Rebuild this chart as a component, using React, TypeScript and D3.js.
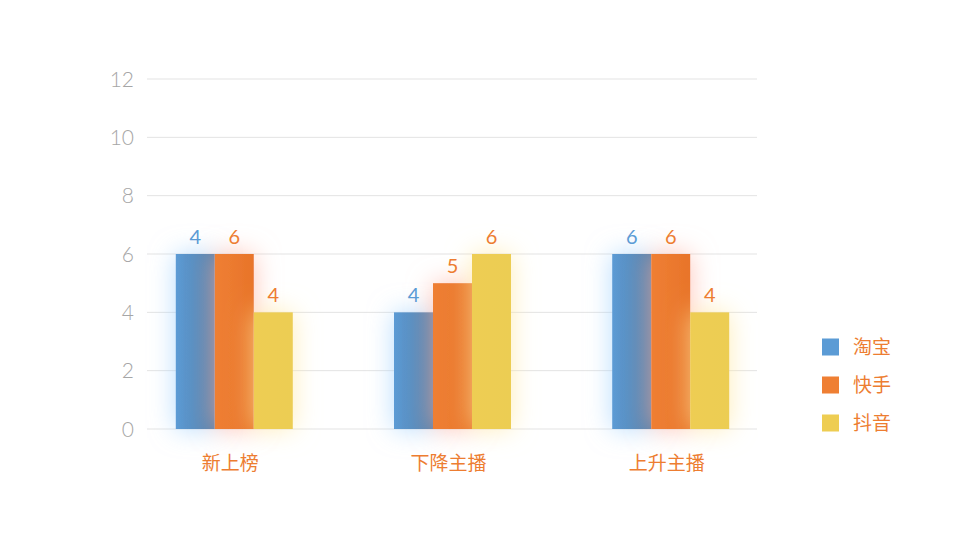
import { scaleBand, scaleLinear, scalePoint } from 'd3'

const categories = ['新上榜', '下降主播', '上升主播']
const seriesNames = ['淘宝', '快手', '抖音']
// bar heights per series
const taobao = [6, 4, 6]
const kuaishou = [6, 5, 6]
const douyin = [4, 6, 4]
// labels printed above the bars (not always the bar height)
const taobaoLabels = ['4', '4', '6']
const kuaishouLabels = ['6', '5', '6']
const douyinLabels = ['4', '6', '4']
const yTicks = [0, 2, 4, 6, 8, 10, 12]

const seriesValues = [taobao, kuaishou, douyin]
const seriesLabels = [taobaoLabels, kuaishouLabels, douyinLabels]

const colors = [
  { from: '#5b9bd5', to: '#5680aa', glow: '#9fd0ff', text: '#5b9bd5' },
  { from: '#ef7f33', to: '#e8742a', glow: '#ffb0a0', text: '#ed7d31' },
  { from: '#eecd52', to: '#eccd52', glow: '#ffe8a0', text: '#ed7d31' },
]

const W = 969
const H = 533
const margin = { left: 147, right: 211, top: 79, bottom: 104 }

export default function App() {
  const innerH = H - margin.top - margin.bottom
  const y = scaleLinear().domain([0, 12]).range([margin.top + innerH, margin.top])
  const x = scalePoint<string>()
    .domain(categories)
    .range([margin.left, W - margin.right])
    .padding(0.4)
  const inner = scaleBand<string>().domain(seriesNames).range([-58.5, 58.5])

  const num = "'Lato', 'Noto Sans', sans-serif"
  const cjk = "'Noto Sans CJK SC', sans-serif"

  return (
    <div style={{ margin: -8 }}>
      <svg width={W} height={H} style={{ display: 'block', background: '#fff' }}>
        <defs>
          {colors.map((c, i) => (
            <linearGradient key={i} id={`g${i}`} x1="0" x2="1" y1="0" y2="0">
              <stop offset="0%" stopColor={c.from} />
              <stop offset="100%" stopColor={c.to} />
            </linearGradient>
          ))}
          {colors.map((c, i) => (
            <filter key={i} id={`f${i}`} x="-120%" y="-60%" width="340%" height="220%">
              <feDropShadow dx="0" dy="0" stdDeviation="13" floodColor={c.glow} floodOpacity="0.75" />
            </filter>
          ))}
        </defs>

        {yTicks.map((t) => (
          <g key={t}>
            <line x1={margin.left} x2={W - margin.right - 1} y1={y(t)} y2={y(t)} stroke="#e3e3e3" strokeWidth={1} />
            <text
              x={134}
              y={y(t)}
              dy="0.36em"
              textAnchor="end"
              fontFamily={num}
              fontWeight={300}
              fontSize={21}
              fill="#a6a6a6"
            >
              {t}
            </text>
          </g>
        ))}

        {seriesNames.map((s, si) =>
          categories.map((c, ci) => {
            const v = seriesValues[si][ci]
            const bx = (x(c) ?? 0) + (inner(s) ?? 0)
            return (
              <rect
                key={s + c}
                x={bx}
                y={y(v)}
                width={inner.bandwidth()}
                height={y(0) - y(v)}
                fill={`url(#g${si})`}
                filter={`url(#f${si})`}
              />
            )
          })
        )}

        {seriesNames.map((s, si) =>
          categories.map((c, ci) => {
            const v = seriesValues[si][ci]
            const bx = (x(c) ?? 0) + (inner(s) ?? 0) + inner.bandwidth() / 2
            return (
              <text
                key={'l' + s + c}
                x={bx}
                y={y(v) - 10}
                textAnchor="middle"
                fontFamily={num}
                fontSize={20}
                fill={colors[si].text}
              >
                {seriesLabels[si][ci]}
              </text>
            )
          })
        )}

        {categories.map((c) => (
          <text
            key={c}
            x={(x(c) ?? 0) - 4}
            y={470}
            textAnchor="middle"
            fontFamily={cjk}
            fontSize={19}
            fill="#ed7d31"
          >
            {c}
          </text>
        ))}

        {seriesNames.map((s, i) => (
          <g key={s} transform={`translate(822, ${347 + i * 38})`}>
            <rect x={0} y={-8.5} width={17} height={17} fill={colors[i].from} />
            <text x={31} y={0} dy="0.35em" fontFamily={cjk} fontSize={19} fill="#ed7d31">
              {s}
            </text>
          </g>
        ))}
      </svg>
    </div>
  )
}
